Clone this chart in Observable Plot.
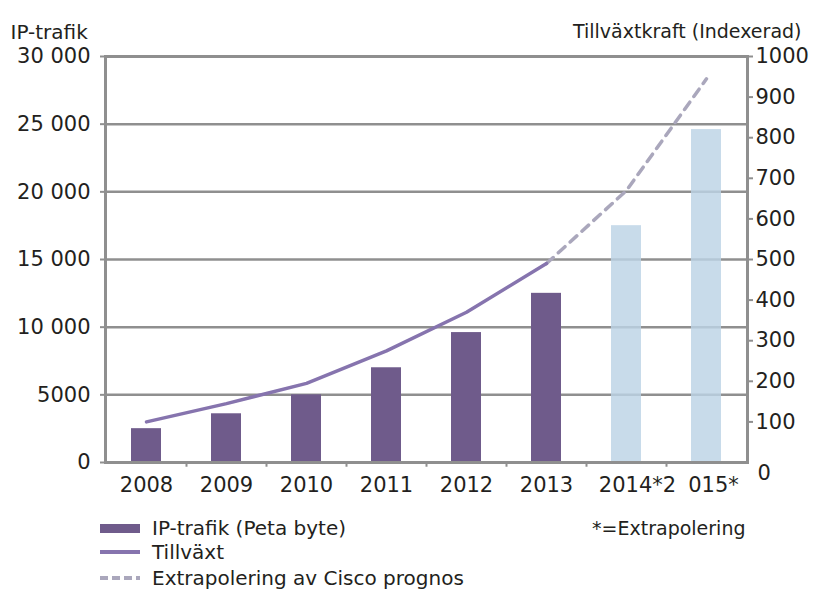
<!DOCTYPE html>
<html>
<head>
<meta charset="utf-8">
<script src="https://cdn.jsdelivr.net/npm/d3@7"></script>
<script src="https://cdn.jsdelivr.net/npm/@observablehq/plot@0.6"></script>
<style>
  html, body { margin: 0; padding: 0; background: #fff; }
  svg { display: block; }
</style>
</head>
<body>
<div id="chart"></div>
<script>
// ---- data ----
const years = ["2008", "2009", "2010", "2011", "2012", "2013", "2014", "2015"];
const yearLabels = ["2008", "2009", "2010", "2011", "2012", "2013", "2014*2", "015*"];
const traffic = [2500, 3600, 5000, 7000, 9600, 12500, 17500, 24600];
const extrapolated = [false, false, false, false, false, false, true, true];
const growthYears = ["2008", "2009", "2010", "2011", "2012", "2013"];
const growth = [100, 145, 195, 275, 370, 490];
const extrapYears = ["2013", "2014", "2015"];
const extrapGrowth = [490, 670, 945];
const leftTicks = [0, 5000, 10000, 15000, 20000, 25000, 30000];
const leftTickLabels = ["0", "5000", "10 000", "15 000", "20 000", "25 000", "30 000"];
const rightTicks = [100, 200, 300, 400, 500, 600, 700, 800, 900, 1000];
const rightZeroLabel = "0";
const leftTitle = "IP-trafik";
const rightTitle = "Tillväxtkraft (Indexerad)";
const footnote = "*=Extrapolering";
const legendItems = ["IP-trafik (Peta byte)", "Tillväxt", "Extrapolering av Cisco prognos"];

// ---- derived tables ----
const ratio = 30000 / 1000; // right axis (0–1000) onto left axis (0–30000)
const bars = years.map((y, i) => ({year: y, value: traffic[i], extra: extrapolated[i]}));
const growthData = growthYears.map((y, i) => ({year: y, v: growth[i] * ratio}));
const extrapData = extrapYears.map((y, i) => ({year: y, v: extrapGrowth[i] * ratio}));
const labelData = years.map((y, i) => ({year: y, label: yearLabels[i]}));

const textColor = "#231f20";
const gridColor = "#8f8f8f";
const font = "DejaVu Sans";

const chart = Plot.plot({
  width: 813,
  height: 597,
  marginLeft: 105,
  marginRight: 66,
  marginTop: 56,
  marginBottom: 135,
  style: {fontFamily: font, fontSize: "20px", color: textColor, background: "#fff"},
  x: {domain: years, padding: 0.625, paddingOuter: 0.3125, axis: null},
  y: {domain: [0, 30000], axis: null},
  marks: [
    Plot.gridY(leftTicks, {stroke: gridColor, strokeOpacity: 1, strokeWidth: 2.5}),
    Plot.barY(bars, {x: "year", y: "value", fill: d => d.extra ? "#bcd3e5" : "#6f5b8b", fillOpacity: d => d.extra ? 0.82 : 1}),
    Plot.frame({stroke: gridColor, strokeWidth: 3}),
    Plot.axisY(leftTicks, {anchor: "left", tickSize: 5, tickPadding: 10, tickFormat: (d, i) => leftTickLabels[i], stroke: gridColor, strokeWidth: 2, fontSize: 21, fill: textColor, label: null}),
    Plot.axisY(rightTicks.map(v => v * ratio), {anchor: "right", tickSize: 5, tickPadding: 3, tickFormat: d => String(Math.round(d / ratio)), stroke: gridColor, strokeWidth: 2, fontSize: 21, fill: textColor, label: null}),
    Plot.ruleX(years.slice(1), {y1: 0, y2: -350, dx: -40, stroke: gridColor, strokeWidth: 2}),
    Plot.line(extrapData, {x: "year", y: "v", stroke: "#aaa7bc", strokeWidth: 3.5, strokeDasharray: "9,7"}),
    Plot.line(growthData, {x: "year", y: "v", stroke: "#8674ae", strokeWidth: 3.5}),
    Plot.text(labelData.slice(0, 6), {x: "year", text: "label", frameAnchor: "bottom", dy: 29, fontSize: 21, fill: textColor}),
    Plot.text(labelData.slice(6, 7), {x: "year", text: "label", frameAnchor: "bottom", dy: 29, dx: 11, fontSize: 21, fill: textColor}),
    Plot.text(labelData.slice(7, 8), {x: "year", text: "label", frameAnchor: "bottom", dy: 29, dx: 7, fontSize: 21, fill: textColor}),
    Plot.text([leftTitle], {frameAnchor: "top-left", textAnchor: "start", dx: -95, dy: -32, fontSize: 20, fill: textColor}),
    Plot.text([rightTitle], {frameAnchor: "top-right", textAnchor: "end", dx: 54, dy: -32, fontSize: 19, fill: textColor}),
    Plot.text([rightZeroLabel], {frameAnchor: "bottom-right", textAnchor: "start", dx: 10, dy: 17, fontSize: 21, fill: textColor}),
    Plot.text([footnote], {frameAnchor: "bottom-right", textAnchor: "end", dx: -2, dy: 72, fontSize: 19, fill: textColor})
  ]
});

document.getElementById("chart").appendChild(chart);

// ---- legend (inside the same SVG, below the plot area) ----
const svg = d3.select(chart.tagName.toLowerCase() === "svg" ? chart : chart.querySelector("svg"));
const lg = svg.append("g").attr("font-family", font).attr("font-size", 20).attr("fill", textColor).attr("text-anchor", "start");
const rowsY = [528, 552, 578];
const swatchX0 = 100, swatchX1 = 140, textX = 152;
lg.append("rect").attr("x", swatchX0).attr("y", rowsY[0] - 4).attr("width", swatchX1 - swatchX0).attr("height", 9).attr("fill", "#6f5b8b");
lg.append("line").attr("x1", swatchX0).attr("x2", swatchX1).attr("y1", rowsY[1]).attr("y2", rowsY[1]).attr("stroke", "#8674ae").attr("stroke-width", 4);
lg.append("line").attr("x1", swatchX0).attr("x2", swatchX1).attr("y1", rowsY[2]).attr("y2", rowsY[2]).attr("stroke", "#aaa7bc").attr("stroke-width", 4).attr("stroke-dasharray", "8,4");
legendItems.forEach((t, i) => {
  lg.append("text").attr("x", textX).attr("y", rowsY[i]).attr("dy", "0.35em").attr("text-anchor", "start").text(t);
});
</script>
</body>
</html>
